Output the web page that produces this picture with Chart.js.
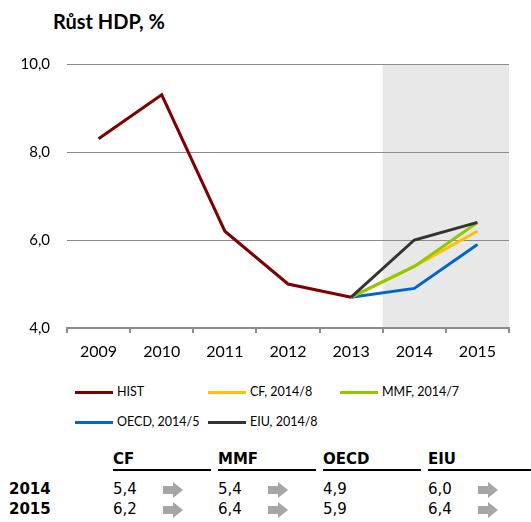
<!DOCTYPE html>
<html>
<head>
<meta charset="utf-8">
<script src="https://cdn.jsdelivr.net/npm/chart.js@4"></script>
<style>
  body { margin: 0; background: #fff; width: 531px; height: 522px; overflow: hidden; position: relative; font-family: Lato, sans-serif; }
  #title { position: absolute; left: 53px; top: 9px; font-size: 20px; font-weight: bold; color: #000; }
  #wrap { position: absolute; left: 0; top: 0; width: 531px; height: 362px; }
  .leg { position: absolute; font-size: 12.5px; color: #000; white-space: nowrap; line-height: 16px; }
  .leg span.ln { display: inline-block; width: 38px; height: 3px; vertical-align: middle; margin-right: 4px; }
  .tbl { position: absolute; font-family: "DejaVu Sans", sans-serif; font-size: 15px; color: #000; white-space: nowrap; }
  .hd { font-weight: bold; border-bottom: 2px solid #000; padding-bottom: 1px; }
  .yr { font-weight: bold; }
  .arrow { position: absolute; width: 20px; height: 15px; }
  .arrow:before { content: ""; position: absolute; left: 0; top: 4px; width: 10px; height: 8px; background: #a6a6a6; }
  .arrow:after { content: ""; position: absolute; left: 10px; top: 0; border-left: 10px solid #a6a6a6; border-top: 8px solid transparent; border-bottom: 8px solid transparent; }
</style>
</head>
<body>
<div id="title">Růst HDP, %</div>
<div id="wrap"><canvas id="gdp"></canvas></div>
<script>
// years and series
var years = ["2009", "2010", "2011", "2012", "2013", "2014", "2015"];
var hist = [8.3, 9.3, 6.2, 5.0, 4.7, null, null];
var cf   = [null, null, null, null, 4.7, 5.4, 6.2];
var mmf  = [null, null, null, null, 4.7, 5.4, 6.4];
var oecd = [null, null, null, null, 4.7, 4.9, 5.9];
var eiu  = [null, null, null, null, 4.7, 6.0, 6.4];
var seriesNames = ["HIST", "CF, 2014/8", "MMF, 2014/7", "OECD, 2014/5", "EIU, 2014/8"];
var yTicks = [4, 6, 8, 10];

// forecast table
var sources = ["CF", "MMF", "OECD", "EIU"];
var tableYears = ["2014", "2015"];
var showArrow = [true, true, false, true];

var colors = ["#7f0000", "#ffc000", "#92c800", "#0066cc", "#333333"];
var allSeries = [hist, cf, mmf, oecd, eiu];
var drawOrder = [0, 4, 2, 5, 1];

// shaded forecast area (2014-2015)
var shadePlugin = {
    id: "shade",
    beforeDraw: function(chart) {
        var ctx = chart.ctx, a = chart.chartArea, x = chart.scales.x;
        var left = (x.getPixelForValue(4) + x.getPixelForValue(5)) / 2;
        ctx.save();
        ctx.fillStyle = "#e8e8e8";
        ctx.fillRect(left, a.top, a.right - left, a.bottom - a.top);
        ctx.restore();
    }
};

var datasets = allSeries.map(function(d, i) {
    return {
        label: seriesNames[i],
        data: d,
        borderColor: colors[i],
        backgroundColor: colors[i],
        borderWidth: 3,
        pointRadius: 0,
        tension: 0,
        order: drawOrder[i]
    };
});

var chart = new Chart(document.getElementById("gdp").getContext("2d"), {
    type: "line",
    data: { labels: years, datasets: datasets },
    options: {
        responsive: true,
        maintainAspectRatio: false,
        animation: false,
        layout: { padding: { left: 0, right: 22, top: 64, bottom: 0 } },
        plugins: { legend: { display: false }, tooltip: { enabled: false } },
        scales: {
            x: {
                offset: true,
                grid: { offset: true, drawOnChartArea: false, drawTicks: true, tickLength: 5, color: "#8c8c8c", lineWidth: 2 },
                border: { display: true, color: "#8c8c8c", width: 2 },
                ticks: { color: "#000", font: { family: "Lato", size: 16 }, padding: 9, maxRotation: 0 },
                afterFit: function(s) { s.height = 34; }
            },
            y: {
                min: 4, max: 10,
                afterBuildTicks: function(s) { s.ticks = yTicks.map(function(v) { return { value: v }; }); },
                grid: { drawTicks: false, color: "#8c8c8c", lineWidth: 1 },
                border: { display: false },
                ticks: {
                    color: "#000", font: { family: "Lato", size: 15 }, padding: 17,
                    callback: function(v) { return v.toFixed(1).replace(".", ","); }
                },
                afterFit: function(s) { s.width = 67; }
            }
        }
    },
    plugins: [shadePlugin]
});

// legend
var legPos = [[75, 384], [208, 384], [340, 384], [75, 414], [208, 414]];
seriesNames.forEach(function(n, i) {
    var el = document.createElement("div");
    el.className = "leg";
    el.style.left = legPos[i][0] + "px";
    el.style.top = legPos[i][1] + "px";
    el.innerHTML = '<span class="ln" style="background:' + colors[i] + '"></span>' + n;
    document.body.appendChild(el);
});

// table
var colX = [113, 218, 323, 428];
var colW = [98, 98, 98, 103];
var rowY = [480, 500];
function add(txt, cls, x, y, w) {
    var el = document.createElement("div");
    el.className = "tbl " + cls;
    el.style.left = x + "px";
    el.style.top = y + "px";
    if (w) el.style.width = w + "px";
    el.textContent = txt;
    document.body.appendChild(el);
}
sources.forEach(function(s, i) {
    add(s, "hd", colX[i], 450, colW[i]);
});
tableYears.forEach(function(yr, r) {
    add(yr, "yr", 9, rowY[r]);
    var idx = years.indexOf(yr);
    sources.forEach(function(s, i) {
        var v = allSeries[i + 1][idx];
        add(v.toFixed(1).replace(".", ","), "", colX[i], rowY[r]);
        if (showArrow[i]) {
            var a = document.createElement("div");
            a.className = "arrow";
            a.style.left = (colX[i] + 50) + "px";
            a.style.top = (rowY[r] + 2) + "px";
            document.body.appendChild(a);
        }
    });
});
</script>
</body>
</html>
